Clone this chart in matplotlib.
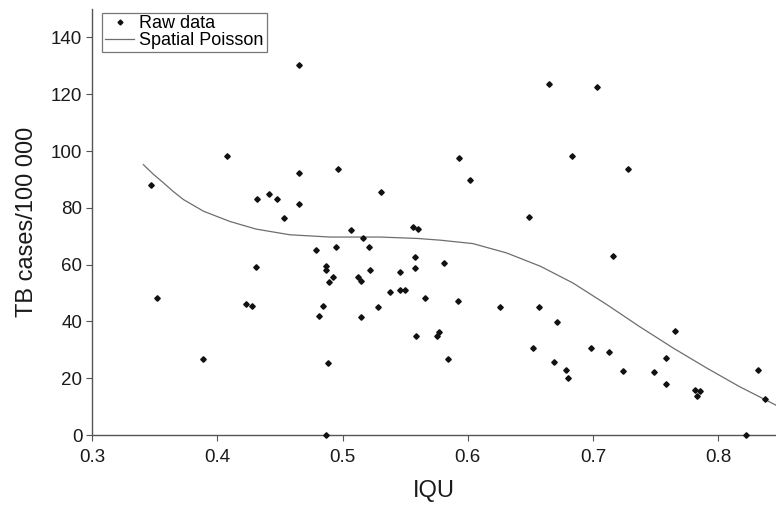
import matplotlib
matplotlib.use("Agg")
import matplotlib.pyplot as plt
from matplotlib.lines import Line2D

plt.rcParams['font.family'] = ['Liberation Sans', 'DejaVu Sans']

# Raw data (IQU, TB cases/100 000)
iqu = [0.347, 0.408, 0.465, 0.465, 0.496, 0.432, 0.441, 0.448, 0.453, 0.465,
       0.531, 0.507, 0.516, 0.556, 0.560, 0.479, 0.495, 0.521, 0.558, 0.558,
       0.431, 0.487, 0.487, 0.492, 0.489, 0.512, 0.515, 0.522, 0.546, 0.538,
       0.546, 0.550, 0.566, 0.528, 0.423, 0.428, 0.484, 0.481, 0.515, 0.559,
       0.352, 0.389, 0.488, 0.487, 0.665, 0.703, 0.593, 0.683, 0.728, 0.602,
       0.649, 0.716, 0.581, 0.592, 0.626, 0.657, 0.671, 0.575, 0.577, 0.584,
       0.652, 0.669, 0.678, 0.680, 0.698, 0.713, 0.724, 0.749, 0.758, 0.758,
       0.765, 0.781, 0.785, 0.783, 0.832, 0.837, 0.822]
cases = [88.0, 98.4, 130.4, 92.2, 93.8, 83.2, 85.0, 83.1, 76.5, 81.4,
         85.5, 72.3, 69.2, 73.1, 72.5, 65.1, 66.2, 66.2, 62.8, 58.8,
         59.0, 59.4, 58.0, 55.5, 53.9, 55.5, 54.1, 58.0, 57.4, 50.2,
         50.9, 50.9, 48.2, 44.9, 46.2, 45.3, 45.3, 41.9, 41.7, 34.8,
         48.4, 26.7, 25.4, 0.0, 123.7, 122.4, 97.6, 98.2, 93.8, 89.8,
         76.8, 62.9, 60.7, 47.2, 45.0, 44.9, 39.7, 35.0, 36.3, 26.9,
         30.8, 25.6, 22.9, 20.0, 30.8, 29.3, 22.4, 22.2, 27.2, 18.0,
         36.7, 15.8, 15.5, 13.6, 22.9, 12.8, 0.0]

# Spatial Poisson fitted curve
fit_x = [0.341, 0.349, 0.357, 0.365, 0.373, 0.389, 0.410, 0.431, 0.458, 0.490,
         0.530, 0.560, 0.578, 0.604, 0.631, 0.658, 0.684, 0.711, 0.737, 0.764,
         0.791, 0.817, 0.846]
fit_y = [95.2, 91.8, 88.8, 85.7, 82.9, 78.8, 75.2, 72.5, 70.5, 69.7,
         69.7, 69.2, 68.6, 67.4, 64.1, 59.4, 53.5, 45.9, 38.2, 30.6,
         23.5, 17.0, 10.5]

x_ticks = [0.3, 0.4, 0.5, 0.6, 0.7, 0.8]
y_ticks = [0, 20, 40, 60, 80, 100, 120, 140]

fig = plt.figure(figsize=(7.76, 5.08), dpi=100)
ax = fig.add_axes([92/776, 1-435/508, 1-92/776, (435-9)/508])

ax.plot(fit_x, fit_y, color='#6e6e6e', lw=0.9, zorder=2,
        solid_joinstyle='round')
ax.plot(iqu, cases, linestyle='none', marker='D', ms=2.8, color='#111111',
        zorder=3, clip_on=False)

ax.set_xlim(0.3, 0.846)
ax.set_ylim(0, 150)
ax.set_xticks(x_ticks)
ax.set_xticklabels([f"{t:.1f}" for t in x_ticks])
ax.set_yticks(y_ticks)

for s in ['top', 'right']:
    ax.spines[s].set_visible(False)
for s in ['left', 'bottom']:
    ax.spines[s].set_color('#555555')
    ax.spines[s].set_linewidth(1.0)
ax.tick_params(axis='both', colors='#555555', length=4, width=0.8,
               labelsize=13.5, labelcolor='#1a1a1a')
ax.tick_params(axis='x', pad=6)
ax.tick_params(axis='y', pad=3)

ax.set_xlabel('IQU', fontsize=17, color='#1a1a1a', labelpad=10)
ax.set_ylabel('TB cases/100 000', fontsize=17, color='#1a1a1a', labelpad=9)

handles = [Line2D([], [], linestyle='none', marker='D', ms=2.5, color='#111111'),
           Line2D([], [], color='#6e6e6e', lw=0.9)]
leg = ax.legend(handles, ['Raw data', 'Spatial Poisson'], loc='upper left',
                bbox_to_anchor=(0.01, 1.0), fontsize=13, frameon=True,
                fancybox=False, handlelength=1.6, handletextpad=0.3,
                borderpad=0.15, labelspacing=0.0, borderaxespad=0.2)
leg.get_frame().set_edgecolor('#555555')
leg.get_frame().set_linewidth(0.9)

fig.savefig('out.png', dpi=100)
